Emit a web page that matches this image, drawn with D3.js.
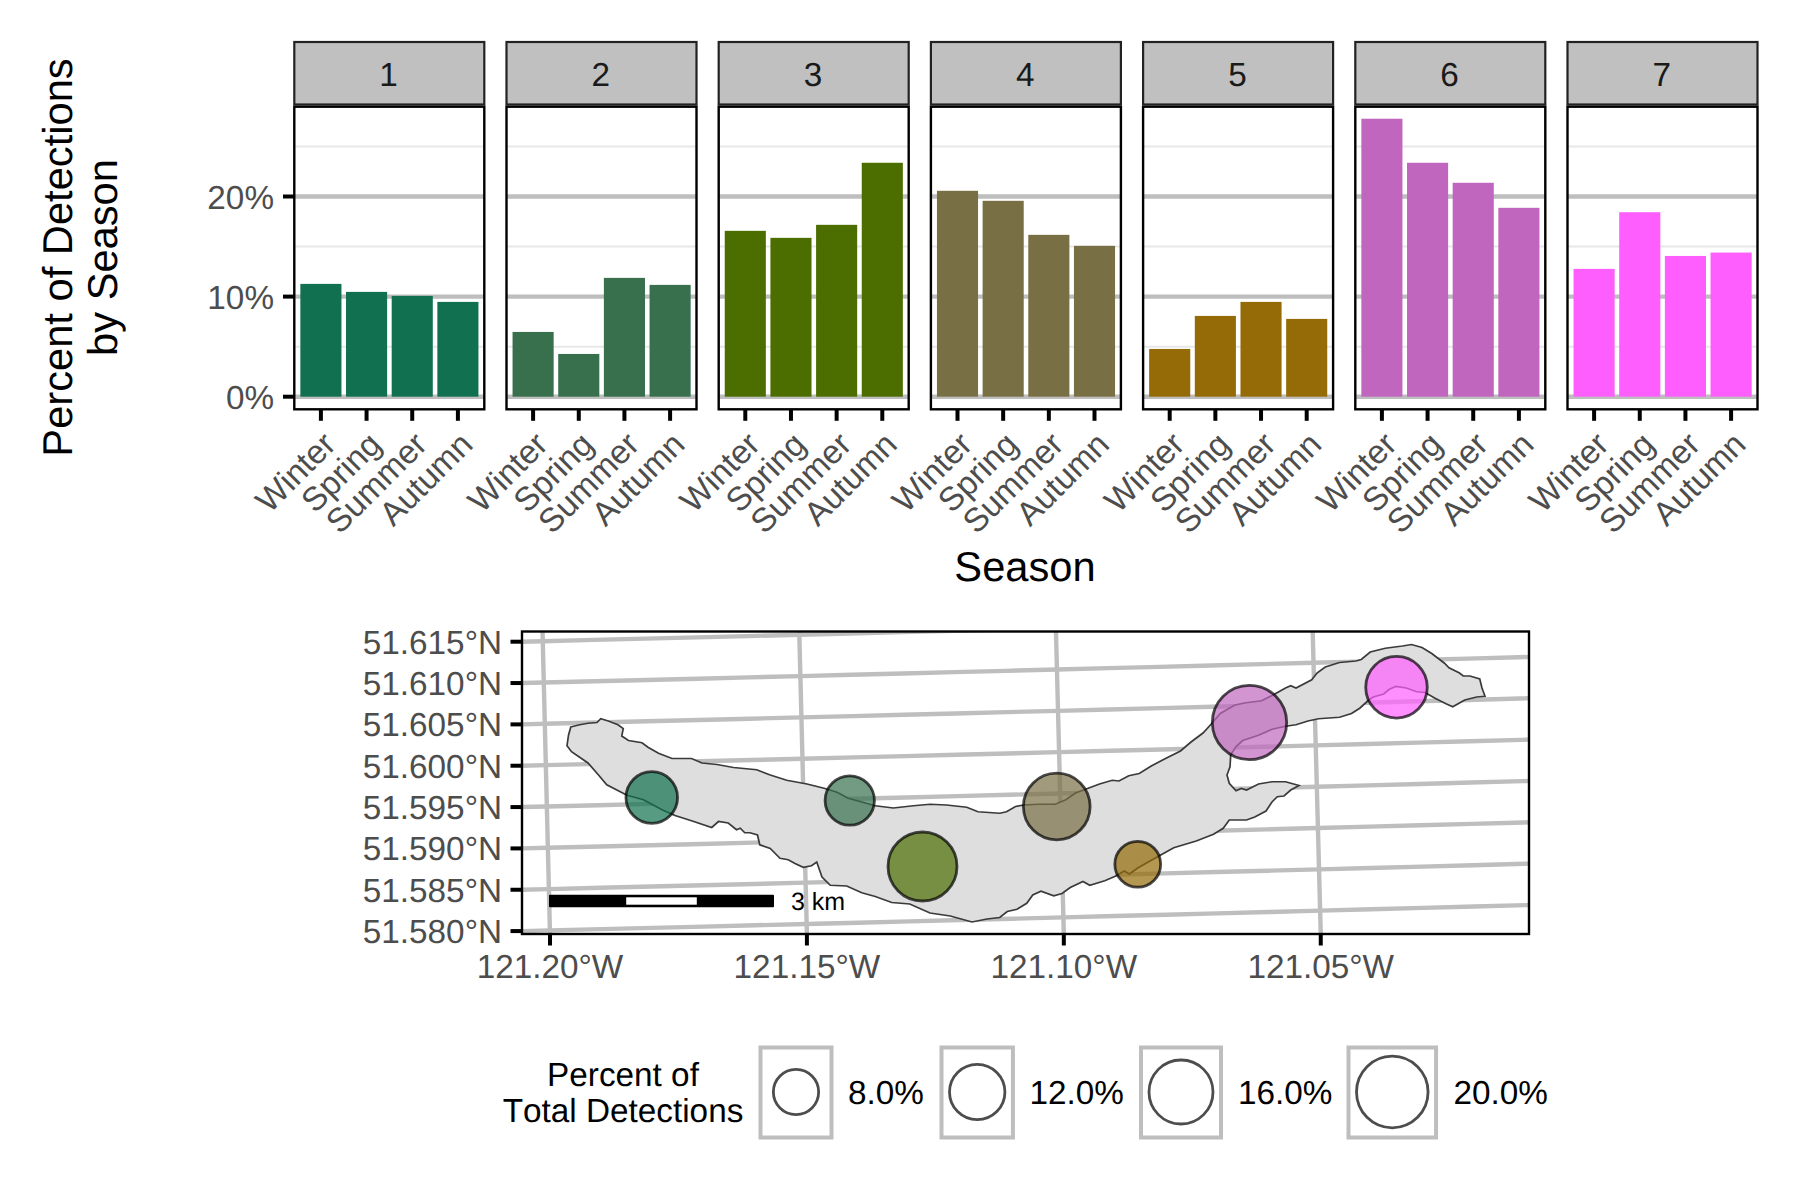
<!DOCTYPE html>
<html><head><meta charset="utf-8">
<script src="https://cdn.jsdelivr.net/npm/d3@7"></script>
<style>html,body{margin:0;background:#fff}svg{display:block;font-family:"Liberation Sans",Arial,sans-serif;font-kerning:none;text-rendering:geometricPrecision}</style>
</head><body><svg id="c" width="1800" height="1200"></svg>
<script>
// ---------- data ----------
const seasons = ["Winter","Spring","Summer","Autumn"];
const sites = ["1","2","3","4","5","6","7"];
const site1 = [11.27,10.47,10.07,9.47];
const site2 = [6.47,4.27,11.87,11.17];
const site3 = [16.57,15.87,17.17,23.37];
const site4 = [20.57,19.57,16.17,15.07];
const site5 = [4.77,8.07,9.47,7.77];
const site6 = [27.77,23.37,21.37,18.87];
const site7 = [12.77,18.43,14.06,14.4];
const seasonal = [site1,site2,site3,site4,site5,site6,site7];
const siteColours = ["#10704F","#38704E","#4C6E00","#796F45","#946B07","#C066BF","#FF5EFF"];
const yTicks = [0,10,20];
const yMinor = [5,15,25];
const lonBreaks = [-121.20,-121.15,-121.10,-121.05];
const latBreaks = [51.58,51.585,51.59,51.595,51.60,51.605,51.61,51.615];
const sizeBreaks = [8,12,16,20];
// site positions, km east / north of the map's lower-left corner
const siteEast = [1.73,4.37,5.34,7.13,8.21,9.70,11.66];
const siteNorth = [1.82,1.78,0.90,1.70,0.93,2.82,3.29];
const sitePct = [10.4,9.5,18.6,17.4,8.2,21.6,14.8];
// lake outline, km east / north of the same corner
const lakeEast = [0.65,0.77,0.88,1.00,1.05,1.15,1.28,1.35,1.33,1.42,1.60,1.68,1.82,2.00,2.26,2.40,2.60,2.82,3.13,3.31,3.53,3.80,4.04,4.20,4.35,4.53,4.71,4.95,5.22,5.44,5.66,5.93,6.08,6.37,
6.46,6.58,6.69,6.88,7.11,7.25,7.38,7.54,7.70,7.87,7.96,8.09,8.23,8.39,8.58,8.78,8.92,9.08,9.20,9.31,9.50,9.63,9.86,10.02,10.18,10.25,10.32,10.53,10.60,10.71,10.90,11.12,11.19,11.31,11.51,11.74,11.86,12.00,12.13,12.30,12.36,12.50,12.55,12.64,12.77,12.80,12.84,
12.73,12.57,12.41,12.32,12.18,12.04,11.93,11.79,11.65,11.56,11.49,11.35,11.29,11.17,11.06,10.90,10.62,10.48,10.32,10.18,10.00,9.82,9.61,9.52,9.45,9.44,9.40,9.43,9.52,9.59,9.66,9.82,10.00,10.18,10.36,10.25,10.16,10.07,10.00,9.92,9.77,9.66,9.43,9.35,9.22,8.99,8.69,8.51,8.35,8.21,8.10,8.03,7.91,7.77,7.57,7.48,7.31,7.20,7.09,6.92,6.81,6.73,6.60,6.47,6.37,
6.20,6.00,5.71,5.44,5.17,4.93,4.71,4.53,4.33,4.11,4.00,3.93,3.86,3.75,3.64,3.55,3.44,3.31,3.17,3.14,3.04,2.97,2.91,2.86,2.75,2.62,2.53,2.26,2.04,1.88,1.62,1.40,1.13,1.02,0.88,0.66,0.60,0.62];
const lakeNorth = [2.76,2.79,2.81,2.82,2.87,2.84,2.79,2.74,2.64,2.58,2.55,2.49,2.41,2.34,2.34,2.28,2.26,2.22,2.19,2.12,2.05,2.00,1.94,1.89,1.81,1.76,1.71,1.68,1.71,1.73,1.72,1.69,1.63,1.61,
1.63,1.70,1.72,1.73,1.73,1.79,1.88,1.94,2.00,2.05,2.04,2.11,2.14,2.24,2.34,2.44,2.56,2.68,2.81,2.94,3.05,3.08,3.11,3.19,3.28,3.31,3.28,3.39,3.48,3.56,3.62,3.64,3.66,3.76,3.81,3.84,3.86,3.82,3.74,3.61,3.55,3.48,3.44,3.44,3.40,3.28,3.17,
3.16,3.12,3.03,3.07,3.14,3.22,3.23,3.28,3.30,3.26,3.20,3.16,3.12,3.01,2.94,2.89,2.87,2.84,2.79,2.77,2.73,2.65,2.58,2.50,2.39,2.23,2.12,2.01,1.91,1.94,1.92,2.00,2.03,2.03,1.98,1.92,1.84,1.83,1.76,1.64,1.56,1.52,1.52,1.41,1.33,1.24,1.15,1.05,0.96,0.88,0.80,0.84,0.77,0.71,0.65,0.70,0.62,0.54,0.51,0.57,0.52,0.41,0.33,0.30,0.22,
0.20,0.16,0.24,0.28,0.40,0.42,0.50,0.55,0.64,0.65,0.76,0.96,0.91,0.89,0.94,0.99,1.01,1.14,1.19,1.32,1.35,1.35,1.41,1.39,1.48,1.50,1.42,1.51,1.58,1.65,1.79,1.85,1.99,2.12,2.28,2.43,2.51,2.65];

// ---------- layout ----------
const svg = d3.select("#c");
const greyLine = "#BEBEBE", txt = "#4D4D4D";
const facetLeft = i => 294.3 + i*212.2, facetW = 190;
const stripTop = 42, stripBot = 104.5, panelTop = 106.7, panelBot = 409.3;
const yBar = d3.scaleLinear().domain([0,20]).range([396.7,196.5]);
const xBar = d3.scalePoint().domain(seasons).range([26.6,163.6]);
const barW = 41.1;

seasonal.forEach((vals,i)=>{
  const g = svg.append("g").attr("transform",`translate(${facetLeft(i)},0)`);
  g.append("rect").attr("y",stripTop).attr("width",facetW).attr("height",stripBot-stripTop)
    .attr("fill","#C0C0C0").attr("stroke","#222").attr("stroke-width",2.2);
  g.append("text").attr("x",facetW/2-0.7).attr("y",stripTop+43.5).attr("text-anchor","middle")
    .attr("font-size",33.3).attr("fill","#1A1A1A").text(sites[i]);
  g.selectAll("line.minor").data(yMinor).join("line").attr("class","minor")
    .attr("x2",facetW).attr("y1",d=>yBar(d)).attr("y2",d=>yBar(d))
    .attr("stroke","#E8E8E8").attr("stroke-width",2);
  g.selectAll("line.major").data(yTicks).join("line").attr("class","major")
    .attr("x2",facetW).attr("y1",d=>yBar(d)).attr("y2",d=>yBar(d))
    .attr("stroke",greyLine).attr("stroke-width",4.4);
  g.selectAll("rect.bar").data(vals).join("rect").attr("class","bar")
    .attr("x",(d,j)=>xBar(seasons[j])-barW/2).attr("width",barW)
    .attr("y",d=>yBar(d)).attr("height",d=>yBar(0)-yBar(d)).attr("fill",siteColours[i]);
  g.append("rect").attr("y",panelTop).attr("width",facetW).attr("height",panelBot-panelTop)
    .attr("fill","none").attr("stroke","#000").attr("stroke-width",2.4);
  seasons.forEach(s=>{
    g.append("line").attr("x1",xBar(s)).attr("x2",xBar(s)).attr("y1",panelBot).attr("y2",panelBot+11.5)
      .attr("stroke","#000").attr("stroke-width",4);
    g.append("text").attr("transform",`translate(${xBar(s)+16.6},${panelBot+37}) rotate(-45)`)
      .attr("text-anchor","end").attr("font-size",33.3).attr("fill",txt).text(s);
  });
});
yTicks.forEach(t=>{
  svg.append("line").attr("x1",283).attr("x2",facetLeft(0)).attr("y1",yBar(t)).attr("y2",yBar(t))
    .attr("stroke","#000").attr("stroke-width",4);
  svg.append("text").attr("x",274).attr("y",yBar(t)+12).attr("text-anchor","end")
    .attr("font-size",33.3).attr("fill",txt).text(t+"%");
});
svg.append("text").attr("transform","translate(71.7,257.5) rotate(-90)").attr("text-anchor","middle")
  .attr("font-size",41.67).text("Percent of Detections");
svg.append("text").attr("transform","translate(116.7,257.5) rotate(-90)").attr("text-anchor","middle")
  .attr("font-size",41.67).text("by Season");
svg.append("text").attr("x",1025).attr("y",581).attr("text-anchor","middle")
  .attr("font-size",41.67).text("Season");

// ---------- map ----------
const mapL=522, mapR=1529, mapT=631.5, mapB=934;
const xKm = d3.scaleLinear().domain([0,13.43]).range([mapL,mapL+13.43*75]);
const yKm = d3.scaleLinear().domain([0,4]).range([mapB,mapB-4*75]);
const rSize = d3.scaleSqrt().domain([0,20]).range([0,8*Math.sqrt(20)]);
const proj = d3.geoTransverseMercator().rotate([123,0]).scale(473500).translate([0,0]);
const p0 = proj([-121.20,51.58]);
proj.translate([549.9-p0[0],930.4-p0[1]]);
const map = svg.append("g");
svg.append("clipPath").attr("id","mapClip").append("rect")
  .attr("x",mapL).attr("y",mapT).attr("width",mapR-mapL).attr("height",mapB-mapT);
const lineGen = d3.line();
const grat = map.append("g").attr("clip-path","url(#mapClip)").attr("fill","none")
  .attr("stroke",greyLine).attr("stroke-width",4.4);
lonBreaks.forEach(lon=>{
  grat.append("path").attr("d",lineGen(d3.range(51.57,51.63,0.005).map(lat=>proj([lon,lat]))));
});
latBreaks.forEach(lat=>{
  grat.append("path").attr("d",lineGen(d3.range(-121.28,-120.95,0.01).map(lon=>proj([lon,lat]))));
});
const lakePts = lakeEast.map((e,i)=>[xKm(e),yKm(lakeNorth[i])]);
map.append("path").attr("d",d3.line().curve(d3.curveLinearClosed)(lakePts))
  .attr("fill","#DEDEDE").attr("stroke","#3A3A3A").attr("stroke-width",1.7);
map.selectAll("circle").data(sitePct).join("circle")
  .attr("cx",(d,i)=>xKm(siteEast[i])).attr("cy",(d,i)=>yKm(siteNorth[i])).attr("r",d=>rSize(d))
  .attr("fill",(d,i)=>siteColours[i]).attr("fill-opacity",.7)
  .attr("stroke","#000").attr("stroke-opacity",.7).attr("stroke-width",2.8);
// scale bar (3 km)
const sbE=0.36, sbT=894.7, sbB=907.3;
map.append("rect").attr("x",xKm(sbE)).attr("width",xKm(sbE+3)-xKm(sbE)).attr("y",sbT).attr("height",sbB-sbT).attr("rx",1).attr("fill","#000");
map.append("rect").attr("x",xKm(sbE+1)+2.2).attr("width",xKm(sbE+2)-xKm(sbE+1)-4.4).attr("y",sbT+2.6).attr("height",sbB-sbT-5.2).attr("fill","#fff");
map.append("text").attr("x",791).attr("y",909.5).attr("font-size",25).attr("fill","#000").text("3 km");
map.append("rect").attr("x",mapL).attr("y",mapT).attr("width",mapR-mapL).attr("height",mapB-mapT)
  .attr("fill","none").attr("stroke","#000").attr("stroke-width",2.4);
// axis ticks where the graticule crosses the frame
function crossX(lat){ let a=-121.4,b=-121.0; for(let k=0;k<40;k++){const m=(a+b)/2; if(proj([m,lat])[0]<mapL)a=m; else b=m;} return proj([a,lat])[1]; }
function crossY(lon){ let a=51.5,b=51.7; for(let k=0;k<40;k++){const m=(a+b)/2; if(proj([lon,m])[1]>mapB)a=m; else b=m;} return proj([lon,a])[0]; }
latBreaks.forEach(lat=>{
  const y=crossX(lat);
  svg.append("line").attr("x1",mapL-11.5).attr("x2",mapL).attr("y1",y).attr("y2",y).attr("stroke","#000").attr("stroke-width",4);
  svg.append("text").attr("x",mapL-20).attr("y",y+12).attr("text-anchor","end").attr("font-size",33.3).attr("fill",txt).text(lat.toFixed(3)+"°N");
});
lonBreaks.forEach(lon=>{
  const x=crossY(lon);
  svg.append("line").attr("x1",x).attr("x2",x).attr("y1",mapB).attr("y2",mapB+11.5).attr("stroke","#000").attr("stroke-width",4);
  svg.append("text").attr("x",x).attr("y",978).attr("text-anchor","middle").attr("font-size",33.3).attr("fill",txt).text(Math.abs(lon).toFixed(2)+"°W");
});

// ---------- legend ----------
const keyLeft=[759,940,1139.5,1347], labelLeft=[848,1029.5,1238,1453.5];
const keyTop=1047.5, keyH=90;
sizeBreaks.forEach((v,i)=>{
  const r=rSize(v), w=Math.max(71,2*r+16);
  svg.append("rect").attr("x",keyLeft[i]+1.5).attr("y",keyTop).attr("width",w).attr("height",keyH)
    .attr("fill","#fff").attr("stroke",greyLine).attr("stroke-width",4);
  svg.append("circle").attr("cx",keyLeft[i]+1.5+w/2).attr("cy",keyTop+keyH/2-0.5).attr("r",r)
    .attr("fill","none").attr("stroke","#4D4D4D").attr("stroke-width",2.8);
  svg.append("text").attr("x",labelLeft[i]).attr("y",1104).attr("font-size",33.3).attr("fill","#000").text(v.toFixed(1)+"%");
});
svg.append("text").attr("x",623).attr("y",1086).attr("text-anchor","middle").attr("font-size",33.3).text("Percent of");
svg.append("text").attr("x",623).attr("y",1122).attr("text-anchor","middle").attr("font-size",33.3).text("Total Detections");
</script></body></html>
